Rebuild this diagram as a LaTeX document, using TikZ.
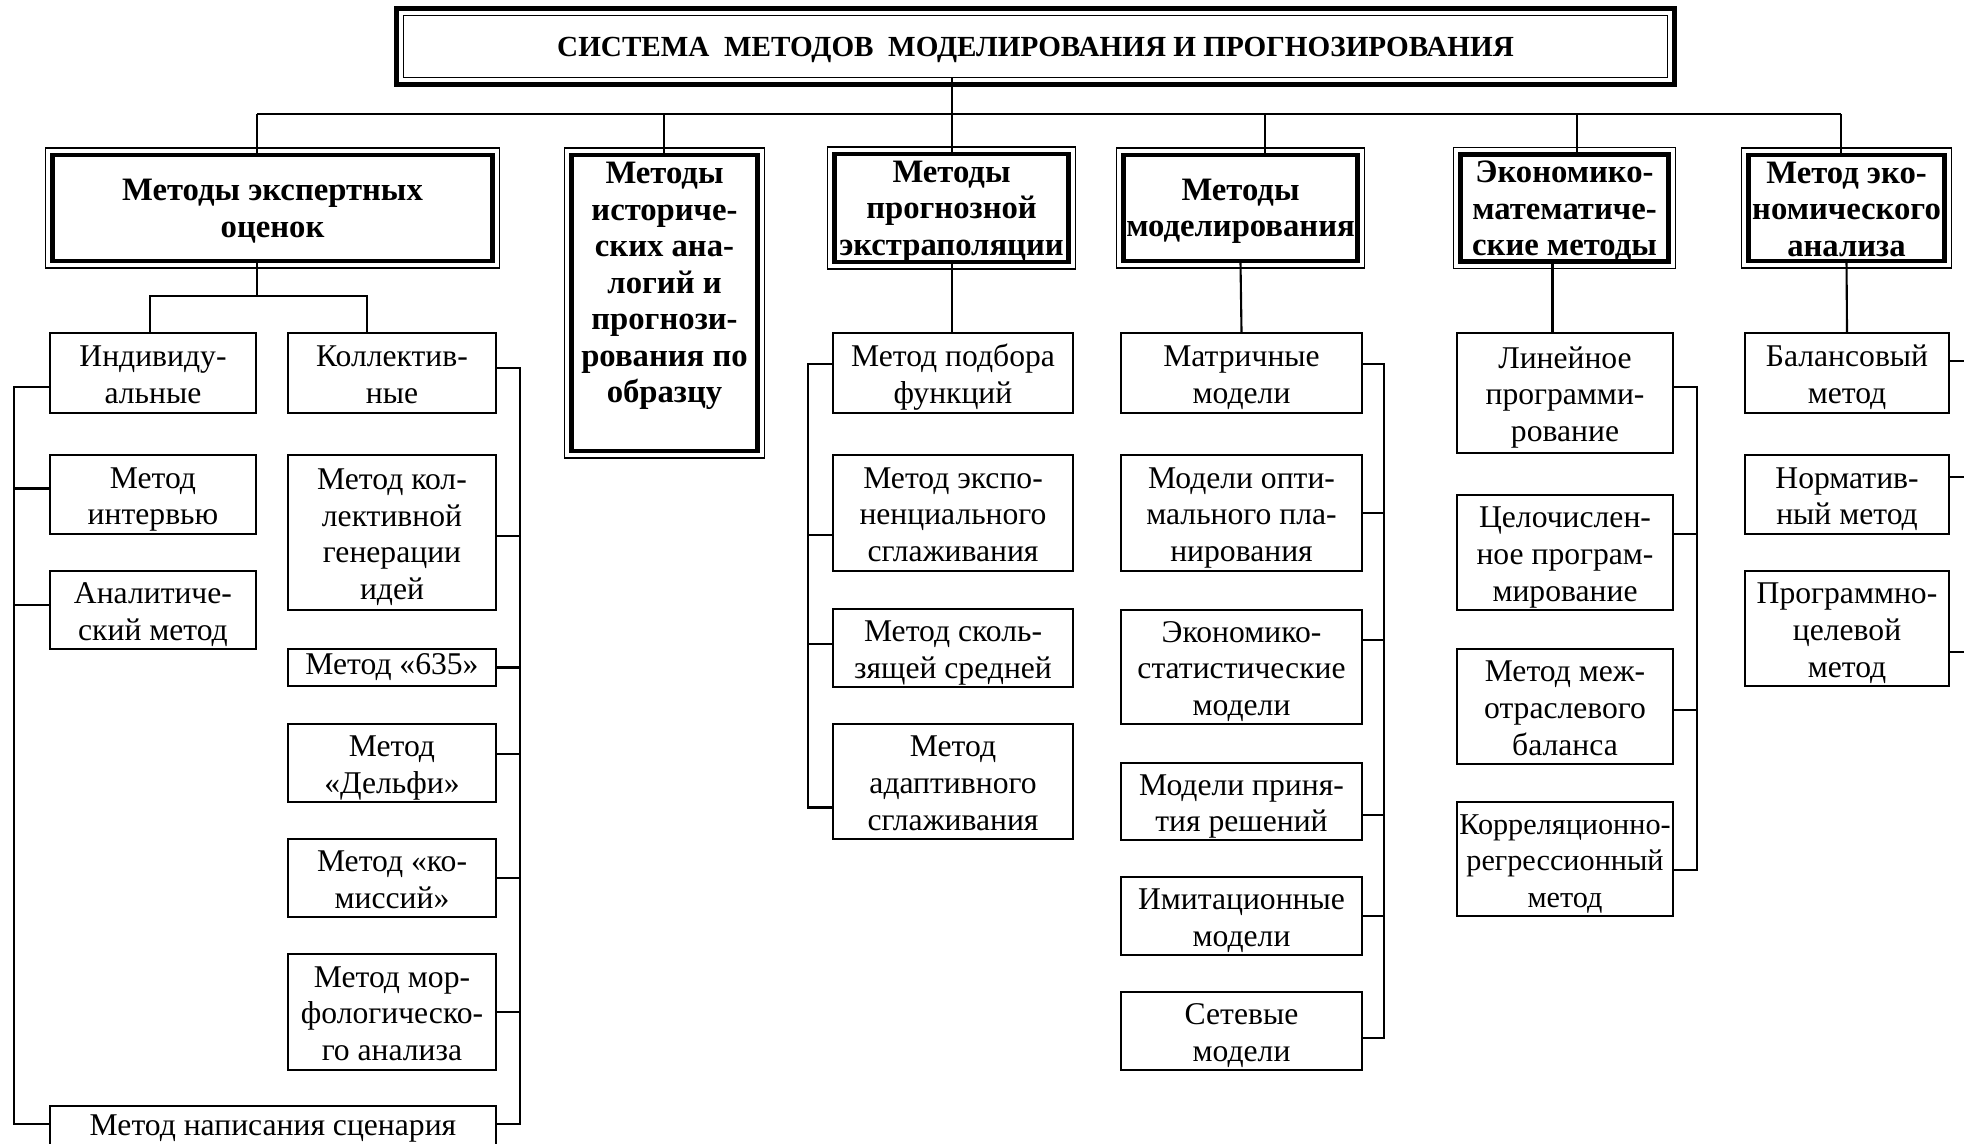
\documentclass[tikz,border=0pt]{standalone}
\usepackage{fontspec}
\setmainfont{Liberation Serif}
\usetikzlibrary{positioning,calc}
\newcommand{\ltop}{\rule{0pt}{9.2pt}}
\newcommand{\lbot}{\rule[-2.4pt]{0pt}{2.4pt}}
\newcommand{\htop}{\rule{0pt}{8pt}}
\newcommand{\hbot}{\rule[-1.3pt]{0pt}{1.3pt}}

\begin{document}
\begin{tikzpicture}[
    link/.style={line width=0.6pt},
    leaf/.style 2 args={draw, line width=0.6pt, align=center, font=\fontsize{9}{10.4}\selectfont, inner xsep=0.5pt, inner ysep=0pt, minimum width=#1, minimum height=#2},
    head/.style 2 args={draw, line width=1.2pt, align=center, font=\fontsize{9.3}{10.4}\selectfont\bfseries, inner xsep=0.5pt, inner ysep=0pt, minimum width=#1, minimum height=#2},
    frame/.style={line width=0.5pt},
]
\useasboundingbox (0,0) rectangle (19.64,-11.44);

% title
\node[draw, line width=0.5pt, minimum width=12.64cm, minimum height=0.62cm, text height=5.5pt, text depth=0pt, font=\fontsize{8.3}{10}\selectfont\bfseries] (title) at (10.355,-0.465) {СИСТЕМА~ МЕТОДОВ~ МОДЕЛИРОВАНИЯ И ПРОГНОЗИРОВАНИЯ};
\draw[line width=1.4pt] ([shift={(-1.8pt,1.8pt)}]title.north west) rectangle ([shift={(1.8pt,-1.8pt)}]title.south east);

% groups
\node[head={4.40cm}{1.06cm}] (hd1) at (2.725,-2.08) {\htop Методы экспертных\\оценок\hbot};
\node[head={1.86cm}{2.96cm}] (hd2) at (6.645,-3.03) {\htop Методы\\историче-\\ских ана-\\логий и\\прогнози-\\рования по\\образцу\rule[-13.5pt]{0pt}{13.5pt}};
\node[head={2.34cm}{1.06cm}] (hd3) at (9.515,-2.08) {\htop Методы\\прогнозной\\экстраполяции\hbot};
\node[head={2.34cm}{1.06cm}] (hd4) at (12.405,-2.08) {\htop Методы\\моделирования\hbot};
\node[head={2.08cm}{1.06cm}] (hd5) at (15.645,-2.08) {\htop Экономико-\\математиче-\\ские методы\hbot};
\node[head={1.96cm}{1.06cm}] (hd6) at (18.465,-2.08) {\htop Метод эко-\\номического\\анализа\hbot};
\foreach \h in {hd1,hd2,hd3,hd4,hd5,hd6}
  \draw[frame] ([shift={(-1.4pt,1.4pt)}]\h.north west) rectangle ([shift={(1.4pt,-1.4pt)}]\h.south east);

% expert methods
\node[leaf={2.06cm}{0.80cm}] (ind) at (1.53,-3.73) {\ltop Индивиду-\\альные\lbot};
\node[leaf={2.06cm}{0.79cm}] (intv) at (1.53,-4.945) {\ltop Метод\\интервью\lbot};
\node[leaf={2.06cm}{0.78cm}] (anal) at (1.53,-6.10) {\ltop Аналитиче-\\ский метод\lbot};
\node[leaf={2.08cm}{0.80cm}] (kol) at (3.92,-3.73) {\ltop Коллектив-\\ные\lbot};
\node[leaf={2.08cm}{1.55cm}] (gen) at (3.92,-5.325) {\ltop Метод кол-\\лективной\\генерации\\идей\lbot};
\node[leaf={2.08cm}{0.37cm}] (m635) at (3.92,-6.675) {Метод «635»};
\node[leaf={2.08cm}{0.78cm}] (delf) at (3.92,-7.63) {\ltop Метод\\«Дельфи»\lbot};
\node[leaf={2.08cm}{0.78cm}] (kom) at (3.92,-8.78) {\ltop Метод «ко-\\миссий»\lbot};
\node[leaf={2.08cm}{1.16cm}] (morf) at (3.92,-10.12) {\ltop Метод мор-\\фологическо-\\го анализа\lbot};
\node[leaf={4.46cm}{0.45cm}] (scen) at (2.73,-11.285) {Метод написания сценария};

% extrapolation
\node[leaf={2.40cm}{0.80cm}] (podb) at (9.53,-3.73) {\ltop Метод подбора\\функций\lbot};
\node[leaf={2.40cm}{1.16cm}] (exp) at (9.53,-5.13) {\ltop Метод экспо-\\ненциального\\сглаживания\lbot};
\node[leaf={2.40cm}{0.76cm}] (skol) at (9.53,-6.48) {\ltop Метод сколь-\\зящей средней\lbot};
\node[leaf={2.40cm}{1.15cm}] (adap) at (9.53,-7.815) {\ltop Метод\\адаптивного\\сглаживания\lbot};

% modelling
\node[leaf={2.41cm}{0.80cm}] (matr) at (12.415,-3.73) {\ltop Матричные\\модели\lbot};
\node[leaf={2.41cm}{1.16cm}] (opt) at (12.415,-5.13) {\ltop Модели опти-\\мального пла-\\нирования\lbot};
\node[leaf={2.41cm}{1.14cm}] (stat) at (12.415,-6.67) {\ltop Экономико-\\статистические\\модели\lbot};
\node[leaf={2.41cm}{0.75cm}] (prin) at (12.415,-8.015) {\ltop Модели приня-\\тия решений\lbot};
\node[leaf={2.41cm}{0.76cm}] (imit) at (12.415,-9.16) {\ltop Имитационные\\модели\lbot};
\node[leaf={2.41cm}{0.78cm}] (set) at (12.415,-10.31) {\ltop Сетевые\\модели\lbot};

% econ-math
\node[leaf={2.16cm}{1.20cm}] (lin) at (15.65,-3.93) {\ltop Линейное\\программи-\\рование\lbot};
\node[leaf={2.16cm}{1.15cm}] (cel) at (15.65,-5.525) {\ltop Целочислен-\\ное програм-\\мирование\lbot};
\node[leaf={2.16cm}{1.15cm}] (mej) at (15.65,-7.065) {\ltop Метод меж-\\отраслевого\\баланса\lbot};
\node[leaf={2.16cm}{1.14cm}, font=\fontsize{8.6}{10.4}\selectfont] (korr) at (15.65,-8.59) {\ltop Корреляционно-\\регрессионный\\метод\lbot};

% econ analysis
\node[leaf={2.04cm}{0.80cm}] (bal) at (18.47,-3.73) {\ltop Балансовый\\метод\lbot};
\node[leaf={2.04cm}{0.79cm}] (norm) at (18.47,-4.945) {\ltop Норматив-\\ный метод\lbot};
\node[leaf={2.04cm}{1.15cm}] (prog) at (18.47,-6.285) {\ltop Программно-\\целевой\\метод\lbot};

% bus points
\coordinate (b1) at (2.57,-1.14);
\coordinate (b2) at (6.64,-1.14);
\coordinate (b3) at (9.52,-1.14);
\coordinate (b4) at (12.65,-1.14);
\coordinate (b5) at (15.77,-1.14);
\coordinate (b6) at (18.41,-1.14);
\coordinate (s1) at (1.50,-2.96);
\coordinate (s2) at (3.67,-2.96);
\coordinate (l1) at (0.14,0);
\coordinate (r1) at (5.20,0);
\coordinate (l3) at (8.08,0);
\coordinate (r4) at (13.84,0);
\coordinate (r5) at (16.97,0);
\coordinate (r6) at (19.64,0);

% top level
\draw[link] (title.south -| b3) -- (b3 |- hd3.north);
\draw[link] (b1) -- (b6);
\foreach \i in {1,2,4,5,6}
  \draw[link] (b\i) -- (b\i |- hd\i.north);

% expert branches
\draw[link] (b1 |- hd1.south) -- (b1 |- s1);
\draw[link] (s1 |- ind.north) -- (s1) -- (s2) -- (s2 |- kol.north);
\draw[link] ([yshift=-1.4mm]ind.west) -| ([yshift=0.45mm]scen.west -| l1) -- ([yshift=0.45mm]scen.west);
\foreach \n/\s in {intv/0.6mm, anal/0.5mm}
  \draw[link] ([yshift=\s]\n.west) -- ([yshift=\s]\n.west -| l1);
\draw[link] ([yshift=0.5mm]kol.east) -| ([yshift=0.45mm]scen.east -| r1) -- ([yshift=0.45mm]scen.east);
\foreach \n/\s in {gen/-0.35mm, m635/0mm, delf/0.9mm, kom/0mm, morf/0mm}
  \draw[link] ([yshift=\s]\n.east) -- ([yshift=\s]\n.east -| r1);

% extrapolation branches
\draw[link] (b3 |- hd3.south) -- (b3 |- podb.north);
\draw[link] ([yshift=0.9mm]podb.west) -| ([yshift=-2.6mm]adap.west -| l3) -- ([yshift=-2.6mm]adap.west);
\foreach \n/\s in {exp/-2.2mm, skol/0.4mm}
  \draw[link] ([yshift=\s]\n.west) -- ([yshift=\s]\n.west -| l3);

% modelling branches
\draw[link] (hd4.south) -- (matr.north);
\draw[link] ([yshift=0.9mm]matr.east) -| ([yshift=-0.7mm]set.east -| r4) -- ([yshift=-0.7mm]set.east);
\foreach \n/\s in {opt/0mm, stat/2.7mm, prin/-1.35mm, imit/0mm}
  \draw[link] ([yshift=\s]\n.east) -- ([yshift=\s]\n.east -| r4);

% econ-math branches
\draw[link] ([xshift=-1.2mm]hd5.south) -- ([xshift=-1.2mm]hd5.south |- lin.north);
\draw[link] ([yshift=0.6mm]lin.east) -| ([yshift=-1.1mm]korr.east -| r5) -- ([yshift=-1.1mm]korr.east);
\foreach \n/\s in {cel/1.85mm, mej/-0.35mm}
  \draw[link] ([yshift=\s]\n.east) -- ([yshift=\s]\n.east -| r5);

% econ analysis branches
\draw[link] (hd6.south) -- (bal.north);
\foreach \n/\s in {bal/1.2mm, norm/1.75mm, prog/-2.35mm}
  \draw[link] ([yshift=\s]\n.east) -- ([yshift=\s]\n.east -| r6);

\end{tikzpicture}
\end{document}
